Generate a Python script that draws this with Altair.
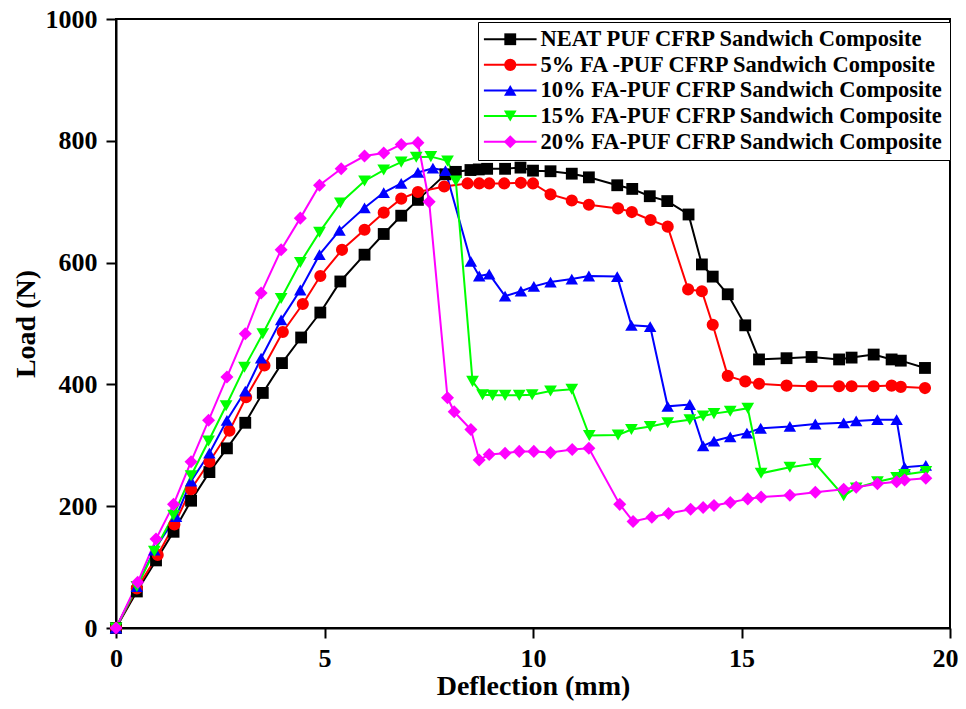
import altair as alt
import pandas as pd

series_names = [
    "NEAT PUF CFRP Sandwich Composite",
    "5% FA -PUF CFRP Sandwich Composite",
    "10% FA-PUF CFRP Sandwich Composite",
    "15% FA-PUF CFRP Sandwich Composite",
    "20% FA-PUF CFRP Sandwich Composite",
]
series_colors = ["#000000", "#FF0000", "#0000FF", "#00FF00", "#FF00FF"]
series_shapes = ["square", "circle", "triangle-up", "triangle-down", "diamond"]
series_sizes = [140, 170, 200, 200, 240]

neat_x = [0, 0.5, 0.96, 1.38, 1.8, 2.24, 2.66, 3.1, 3.52, 3.98, 4.44, 4.9, 5.38, 5.96, 6.42, 6.84, 7.24, 7.9, 8.15, 8.5, 8.7, 8.9, 9.33, 9.7, 10.0, 10.42, 10.93, 11.34, 12.02, 12.38, 12.8, 13.22, 13.73, 14.05, 14.31, 14.67, 15.09, 15.42, 16.08, 16.68, 17.34, 17.64, 18.17, 18.6, 18.82, 19.4]
neat_y = [0, 60, 111, 158, 209, 256, 295, 337, 386, 435, 477, 518, 569, 613, 647, 677, 703, 745, 749, 752, 753, 754, 754, 756, 751, 750, 746, 740, 727, 721, 709, 701, 679, 597, 577, 548, 497, 441, 443, 445, 441, 444, 449, 441, 439, 427]

fa5_x = [0, 0.5, 1.0, 1.4, 1.8, 2.24, 2.72, 3.12, 3.56, 4.0, 4.48, 4.9, 5.42, 5.96, 6.42, 6.84, 7.24, 7.87, 8.43, 8.71, 8.95, 9.31, 9.71, 10.0, 10.42, 10.93, 11.34, 12.04, 12.37, 12.82, 13.23, 13.72, 14.05, 14.31, 14.67, 15.09, 15.42, 16.08, 16.68, 17.34, 17.64, 18.17, 18.6, 18.82, 19.4]
fa5_y = [0, 65, 120, 170, 228, 273, 324, 379, 431, 486, 532, 578, 621, 654, 682, 705, 716, 725, 730, 730, 730, 730, 731, 730, 712, 702, 695, 689, 683, 670, 659, 556, 553, 498, 414, 405, 401, 398, 397, 397, 397, 397, 398, 396, 394]

fa10_x = [0, 0.5, 0.92, 1.44, 1.8, 2.24, 2.66, 3.1, 3.48, 3.96, 4.42, 4.88, 5.36, 5.96, 6.42, 6.84, 7.24, 7.6, 7.9, 8.51, 8.71, 8.95, 9.33, 9.71, 10.02, 10.42, 10.93, 11.34, 12.02, 12.36, 12.81, 13.23, 13.76, 14.08, 14.34, 14.73, 15.13, 15.46, 16.16, 16.77, 17.45, 17.75, 18.26, 18.72, 18.91, 19.42]
fa10_y = [0, 68, 128, 183, 241, 287, 341, 389, 443, 506, 555, 613, 653, 690, 715, 730, 748, 755, 751, 602, 578, 581, 545, 553, 561, 568, 573, 578, 577, 497, 495, 364, 367, 299, 307, 314, 320, 328, 331, 335, 337, 340, 342, 342, 264, 267]

fa15_x = [0, 0.5, 0.92, 1.38, 1.8, 2.22, 2.64, 3.08, 3.52, 3.96, 4.42, 4.88, 5.38, 5.96, 6.42, 6.84, 7.2, 7.55, 7.95, 8.15, 8.55, 8.79, 9.03, 9.33, 9.67, 9.98, 10.42, 10.93, 11.35, 12.04, 12.36, 12.81, 13.23, 13.76, 14.08, 14.34, 14.73, 15.15, 15.47, 16.16, 16.77, 17.45, 17.75, 18.26, 18.72, 18.91, 19.42]
fa15_y = [0, 68, 126, 185, 250, 307, 365, 428, 483, 541, 600, 650, 698, 734, 752, 765, 773, 774, 767, 734, 405, 383, 382, 382, 382, 383, 389, 392, 316, 317, 326, 331, 337, 342, 348, 352, 356, 361, 254, 264, 270, 217, 230, 240, 247, 252, 257]

fa20_x = [0, 0.52, 0.96, 1.38, 1.8, 2.22, 2.66, 3.1, 3.48, 3.96, 4.42, 4.88, 5.4, 5.96, 6.42, 6.84, 7.24, 7.51, 7.95, 8.11, 8.51, 8.71, 8.95, 9.33, 9.67, 10.02, 10.42, 10.94, 11.34, 12.08, 12.4, 12.85, 13.25, 13.78, 14.08, 14.34, 14.73, 15.15, 15.47, 16.16, 16.77, 17.45, 17.75, 18.26, 18.72, 18.91, 19.42]
fa20_y = [0, 75, 146, 203, 273, 341, 412, 483, 550, 621, 673, 727, 754, 775, 780, 794, 797, 700, 378, 355, 326, 276, 285, 287, 290, 290, 288, 293, 295, 203, 175, 182, 188, 195, 198, 201, 206, 212, 215, 218, 223, 228, 231, 237, 240, 243, 246]

xs = [neat_x, fa5_x, fa10_x, fa15_x, fa20_x]
ys = [neat_y, fa5_y, fa10_y, fa15_y, fa20_y]

ZW = "\u200b"
rows = []
for i, (name, sx, sy) in enumerate(zip(series_names, xs, ys)):
    for j, (a, b) in enumerate(zip(sx, sy)):
        rows.append({"series": name, "series_line": name + ZW, "idx": j, "x": a, "y": b})
df = pd.DataFrame(rows)

font = "Liberation Serif"
LX, LY = 362, 3
MAXS = max(series_sizes)

common = dict(
    title=None, orient="none", legendX=LX, legendY=LY,
    labelFont=font, labelFontWeight="bold", labelFontSize=22.5, labelColor="black",
    labelLimit=0, symbolSize=MAXS, symbolOffset=15, labelOffset=19,
    rowPadding=2.6, padding=6,
)

line_legend = alt.Legend(
    **common,
    symbolType="M-3.4,0H3.4",
    symbolStrokeWidth=2,
    labelOpacity=0,
    fillColor="white",
    strokeColor="black",
    zindex=0,
)
point_legend = alt.Legend(
    **common,
    symbolStrokeWidth=0,
    zindex=1,
)

x_enc = alt.X("x:Q", scale=alt.Scale(domain=[0, 20], nice=False),
              axis=alt.Axis(title="Deflection (mm)", values=[0, 5, 10, 15, 20], format="d",
                            labelFlush=False,
                            labelAlign={"condition": {"test": "datum.value == 20", "value": "right"},
                                        "value": "center"},
                            labelOffset={"condition": {"test": "datum.value == 20", "value": 8},
                                         "value": 0}))
y_enc = alt.Y("y:Q", scale=alt.Scale(domain=[0, 1000], nice=False),
              axis=alt.Axis(title="Load (N)", values=[0, 200, 400, 600, 800, 1000], format="d",
                            labelFlush=False))

lines = alt.Chart(df).mark_line(strokeWidth=2).encode(
    x=x_enc, y=y_enc,
    stroke=alt.Stroke("series_line:N",
                      scale=alt.Scale(domain=[n + ZW for n in series_names], range=series_colors),
                      legend=line_legend),
    order="idx:Q",
)

points = alt.Chart(df).mark_point(filled=True, opacity=1).encode(
    x=x_enc, y=y_enc,
    color=alt.Color("series:N", scale=alt.Scale(domain=series_names, range=series_colors),
                    legend=point_legend),
    shape=alt.Shape("series:N", scale=alt.Scale(domain=series_names, range=series_shapes),
                    legend=point_legend),
    size=alt.Size("series:N", scale=alt.Scale(domain=series_names, range=series_sizes),
                  legend=point_legend),
)

chart = alt.layer(lines, points).properties(
    width=834, height=609,
    autosize=alt.AutoSizeParams(type="none"),
    padding={"left": 108, "top": 11, "right": 8, "bottom": 73},
).configure_view(
    stroke="black", strokeWidth=2
).configure_axis(
    grid=False,
    domainColor="black", domainWidth=2,
    tickColor="black", tickWidth=2, tickSize=10,
    labelFont=font, labelFontWeight="bold", labelFontSize=26, labelColor="black",
    titleFont=font, titleFontWeight="bold", titleFontSize=28, titleColor="black",
).configure_axisX(
    labelPadding=7, titlePadding=1,
).configure_axisY(
    labelPadding=9, titlePadding=5,
)

chart.save("out.html", embed_options={"renderer": "svg", "actions": False})
